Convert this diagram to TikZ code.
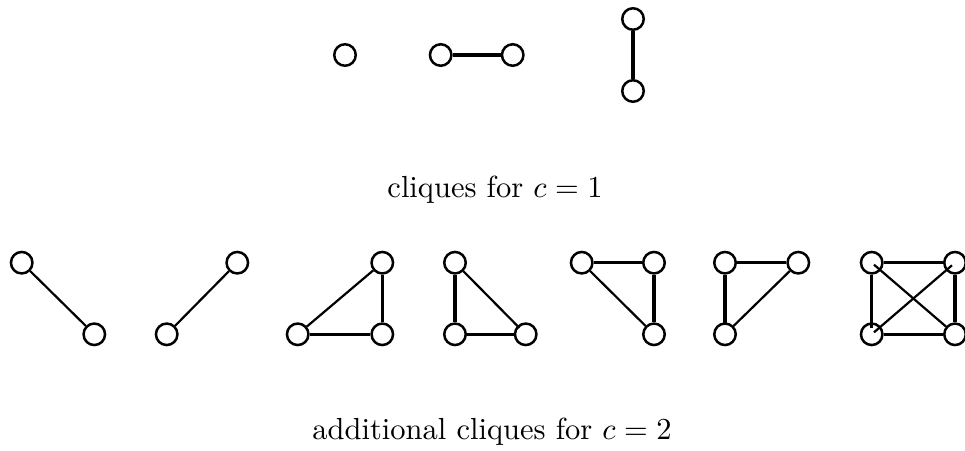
\documentclass[tikz,border=0pt]{standalone}
\begin{document}
\begin{tikzpicture}[x=1pt,y=-1pt,
  vtx/.style={circle,draw,line width=2.5pt,minimum size=21.5pt,inner sep=0pt},
  straight/.style={line width=3.1pt},
  slant/.style={line width=2.2pt},
  lbl/.style={scale=3.05,anchor=base}]
\useasboundingbox (0,0) rectangle (965,450);
% top row
\node[vtx] (s1) at (345,55) {};
\node[vtx] (p1) at (440.7,55) {};
\node[vtx] (p2) at (512.7,55) {};
\draw[straight] (p1) -- (p2);
\node[vtx] (q1) at (633,19) {};
\node[vtx] (q2) at (633,91) {};
\draw[straight] (q1) -- (q2);
\node[lbl] (t1) at (495,197) {cliques for $c=1$};
% bottom row
\def\ya{262.7}\def\yb{334.3}
% graph 1
\node[vtx] (a1) at (21.7,\ya) {};
\node[vtx] (a2) at (94.3,\yb) {};
\draw[slant] (a1) -- (a2);
% graph 2
\node[vtx] (b1) at (166.7,\yb) {};
\node[vtx] (b2) at (237.3,\ya) {};
\draw[slant] (b1) -- (b2);
% graph 3
\node[vtx] (c1) at (382.3,\ya) {};
\node[vtx] (c2) at (297.7,\yb) {};
\node[vtx] (c3) at (382.3,\yb) {};
\draw[slant] (c2) -- (c1);
\draw[straight] (c1) -- (c3);
\draw[straight] (c2) -- (c3);
% graph 4
\node[vtx] (d1) at (455,\ya) {};
\node[vtx] (d2) at (455,\yb) {};
\node[vtx] (d3) at (525.7,\yb) {};
\draw[straight] (d1) -- (d2);
\draw[straight] (d2) -- (d3);
\draw[slant,shorten >=-3pt] (d1) -- (d3);
% graph 5
\node[vtx] (e1) at (581.7,\ya) {};
\node[vtx] (e2) at (654,\ya) {};
\node[vtx] (e3) at (654,\yb) {};
\draw[straight] (e1) -- (e2);
\draw[straight] (e2) -- (e3);
\draw[slant] (e1) -- (e3);
% graph 6
\node[vtx] (f1) at (725,\ya) {};
\node[vtx] (f2) at (798.3,\ya) {};
\node[vtx] (f3) at (725,\yb) {};
\draw[straight] (f1) -- (f2);
\draw[straight,shorten >=-3pt] (f1) -- (f3);
\draw[slant] (f3) -- (f2);
% graph 7
\node[vtx] (g1) at (871.7,\ya) {};
\node[vtx] (g2) at (955,\ya) {};
\node[vtx] (g3) at (871.7,\yb) {};
\node[vtx] (g4) at (955,\yb) {};
\draw[straight] (g1) -- (g2);
\draw[straight] (g3) -- (g4);
\draw[straight,shorten >=-6pt] (g1) -- (g3);
\draw[straight] (g2) -- (g4);
\draw[slant,shorten <=-9pt] (g1) -- (g4);
\draw[slant,shorten <=-9pt,shorten >=-8pt] (g3) -- (g2);
\node[lbl] (t2) at (492,439) {additional cliques for $c=2$};
\end{tikzpicture}
\end{document}
